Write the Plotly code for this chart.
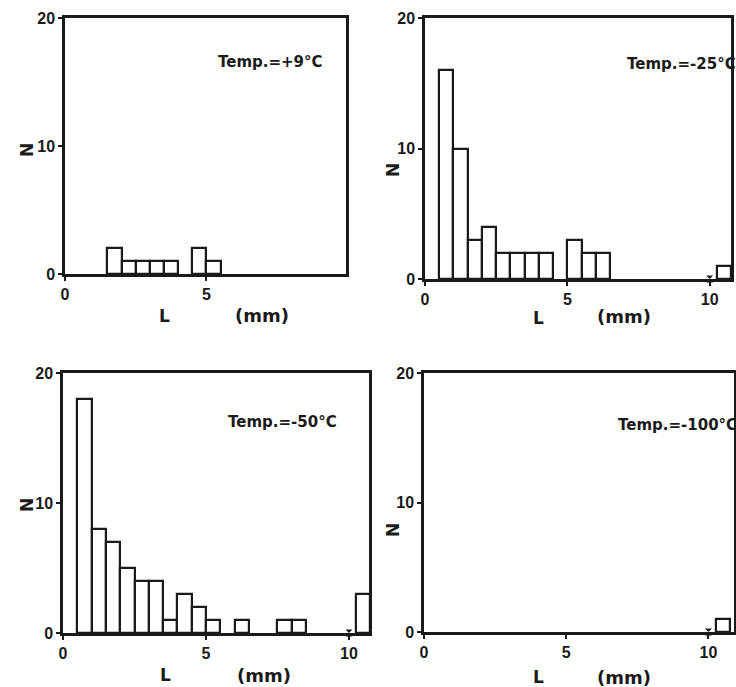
import plotly.graph_objects as go

# ---- data ----
bin_left_mm = [0.5, 1.0, 1.5, 2.0, 2.5, 3.0, 3.5, 4.0, 4.5, 5.0, 5.5, 6.0, 6.5, 7.0, 7.5, 8.0]
counts_p9 = [0, 0, 2, 1, 1, 1, 1, 0, 2, 1, 0, 0, 0, 0, 0, 0]
counts_m25 = [16, 10, 3, 4, 2, 2, 2, 2, 0, 3, 2, 2, 0, 0, 0, 0]
counts_m50 = [18, 8, 7, 5, 4, 4, 1, 3, 2, 1, 0, 1, 0, 0, 1, 1]
counts_m100 = [0] * 16
overflow = {"p9": None, "m25": 1, "m50": 3, "m100": 1}
titles = ["Temp.=+9°C", "Temp.=-25°C", "Temp.=-50°C", "Temp.=-100°C"]
bin_width = 0.5
overflow_x = 10.5
x_ticks = [0, 5, 10]
y_ticks = [0, 10, 20]

W, H = 736, 687
def px(x):
    return x / W
def py(y):
    return 1 - y / H

panels = [
    dict(counts=counts_p9, ov=overflow["p9"], dom_x=(65, 346), dom_y=(18, 274), xmax=9.93,
         title=titles[0], tpos=(270, 62), npos=(27, 150), lpos=(164, 316), mmpos=(262, 315)),
    dict(counts=counts_m25, ov=overflow["m25"], dom_x=(425, 731), dom_y=(18, 279), xmax=10.75,
         title=titles[1], tpos=(681, 64), npos=(393, 170), lpos=(538, 318), mmpos=(624, 317)),
    dict(counts=counts_m50, ov=overflow["m50"], dom_x=(63, 369), dom_y=(373, 633), xmax=10.7,
         title=titles[2], tpos=(282, 422), npos=(27, 505), lpos=(165, 675), mmpos=(264, 675)),
    dict(counts=counts_m100, ov=overflow["m100"], dom_x=(424, 734), dom_y=(373, 632), xmax=10.9,
         title=titles[3], tpos=(677, 425), npos=(393, 530), lpos=(538, 677), mmpos=(624, 677)),
]

FONT = "DejaVu Sans"
TICKFONT = "Liberation Sans"
INK = "#1a1a1a"
fig = go.Figure()
annotations = []
layout_axes = {}

def label(text, x, y, size, angle=0):
    return dict(text=text, x=px(x), y=py(y), xref="paper", yref="paper",
                xanchor="center", yanchor="middle", showarrow=False, textangle=angle,
                font=dict(family=FONT, size=size, color=INK, weight="bold"))

for i, p in enumerate(panels):
    k = "" if i == 0 else str(i + 1)
    xs = [b + bin_width / 2 for b, c in zip(bin_left_mm, p["counts"]) if c > 0]
    ys = [c for c in p["counts"] if c > 0]
    if p["ov"]:
        xs.append(overflow_x)
        ys.append(p["ov"])
    fig.add_trace(go.Bar(x=xs, y=ys, width=bin_width, xaxis="x" + k, yaxis="y" + k,
                         marker=dict(color="white", line=dict(color=INK, width=2.2)),
                         showlegend=False, hoverinfo="x+y"))
    if i > 0:
        # axis break mark
        fig.add_trace(go.Scatter(x=[10], y=[0], mode="markers", xaxis="x" + k, yaxis="y" + k,
                                 marker=dict(symbol="hourglass", size=7, color=INK),
                                 showlegend=False, hoverinfo="skip", cliponaxis=False))
    x0, x1 = p["dom_x"]
    y0, y1 = p["dom_y"]
    common = dict(showline=True, linewidth=2.5, linecolor=INK, mirror=True,
                  ticks="outside", ticklen=4, tickwidth=2, tickcolor=INK,
                  showgrid=False, zeroline=False, automargin=False,
                  tickfont=dict(family=TICKFONT, size=16, color=INK, weight="bold"))
    layout_axes["xaxis" + k] = dict(domain=[px(x0), min(px(x1), 1)], range=[0, p["xmax"]],
                                    anchor="y" + k, tickvals=x_ticks, **common)
    layout_axes["yaxis" + k] = dict(domain=[py(y1), py(y0)], range=[0, 20],
                                    anchor="x" + k, tickvals=y_ticks, **common)
    annotations += [
        label(p["title"], *p["tpos"], 15),
        label("N", *p["npos"], 17, -90),
        label("L", *p["lpos"], 17),
        label("(mm)", *p["mmpos"], 18),
    ]

fig.update_layout(width=W, height=H, margin=dict(l=0, r=0, t=0, b=0, autoexpand=False),
                  paper_bgcolor="white", plot_bgcolor="white",
                  bargap=0, annotations=annotations, **layout_axes)
# let the figure fill the whole window (no default page margin), no modebar
fig.write_html("out.html", config={"displayModeBar": False},
               post_script="document.body.style.margin='0';document.body.style.overflow='hidden';")
